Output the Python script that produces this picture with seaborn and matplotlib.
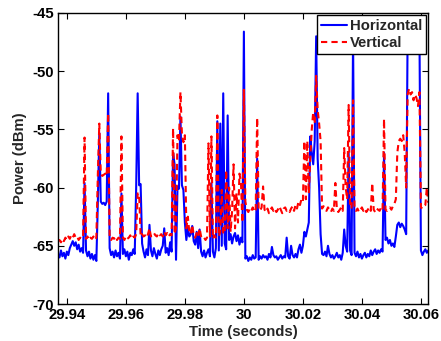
import numpy as np
import pandas as pd
import matplotlib
matplotlib.use("Agg")
import matplotlib.pyplot as plt
import seaborn as sns

# ---- data ----
t_start = 29.937          # first sample time (s)
t_step = 0.0005           # sample spacing (s)

horizontal = [
    -65.7, -66.0, -65.4, -65.9, -65.6, -66.1, -65.5, -65.8, -65.2, -64.9,
    -64.6, -65.0, -64.7, -65.3, -64.9, -65.5, -65.2, -65.6, -59.6, -65.4,
    -65.9, -65.5, -66.1, -65.7, -66.2, -65.8, -66.3, -61.3, -55.3, -61.2,
    -61.4, -61.3, -61.5, -61.2, -51.9, -65.2, -65.8, -65.5, -66.0, -65.4,
    -65.9, -65.6, -66.1, -60.5, -65.7, -65.3, -65.9, -65.5, -66.2, -65.6,
    -65.8, -65.3, -65.7, -59.9, -51.9, -59.8, -59.7, -64.8, -65.5, -66.0,
    -65.3, -65.8, -63.2, -65.4, -65.9, -65.2, -65.7, -66.1, -65.4, -65.8,
    -65.3, -65.0, -63.5, -65.6, -65.2, -65.8, -64.7, -65.5, -57.0, -58.0,
    -66.2, -59.9, -60.1, -53.9, -59.8, -60.2, -63.0, -64.5, -63.4, -64.2,
    -64.0, -63.3, -64.6, -64.9, -63.8, -65.2, -63.6, -65.5, -65.9, -65.4,
    -66.0, -65.6, -65.3, -65.9, -59.6, -65.5, -66.0, -65.2, -54.3, -65.4,
    -54.5, -65.0, -51.9, -64.8, -65.3, -53.8, -64.5, -64.0, -64.8, -64.2,
    -63.9, -64.6, -64.1, -64.9, -64.3, -64.7, -46.6, -66.1, -65.9, -66.3,
    -66.0, -66.2, -65.8, -66.1, -66.0, -57.5, -66.2, -65.9, -66.1, -65.8,
    -66.0, -65.9, -66.2, -65.7, -66.0, -65.1, -65.8, -66.0, -65.9, -66.2,
    -66.0, -65.8, -66.1, -65.9, -66.0, -64.3, -65.9, -66.1, -65.0, -65.8,
    -66.0, -65.7, -66.0, -65.3, -64.9, -65.6, -65.0, -63.8, -64.2, -63.6,
    -63.0, -55.6, -57.0, -58.0, -56.0, -47.0, -57.5, -60.0, -64.0, -65.7,
    -65.8, -65.5, -65.9, -65.0, -65.7, -66.0, -65.8, -66.1, -65.9, -65.6,
    -66.0, -65.8, -66.2, -65.6, -63.6, -65.0, -65.5, -57.0, -65.4, -65.8,
    -47.0, -65.6, -65.9, -65.5, -66.0, -65.7, -66.1, -65.8, -65.6, -66.0,
    -65.7, -65.9, -65.4, -65.8, -65.5, -65.3, -65.7, -65.4, -65.6, -65.3,
    -65.5, -57.0, -64.5, -64.3, -64.8, -64.5, -65.0, -64.8, -65.1, -64.2,
    -63.2, -63.0, -63.4, -63.1, -63.3, -63.6, -64.0, -46.5, -47.5, -47.2,
    -47.6, -47.3, -47.5, -47.4, -47.6, -46.5, -65.4, -65.8, -65.5, -65.3,
    -65.6, -65.4,
]

vertical = [
    -64.6, -64.5, -64.7, -64.4, -64.6, -64.3, -64.5, -64.2, -64.4, -64.1,
    -64.3, -64.0, -64.3, -64.2, -64.5, -64.3, -64.4, -64.2, -55.7, -64.4,
    -64.2, -64.5, -64.3, -64.4, -64.2, -64.5, -64.3, -58.9, -54.5, -58.8,
    -59.0, -58.9, -58.8, -59.0, -53.6, -64.2, -64.5, -64.3, -64.4, -64.2,
    -64.5, -64.3, -64.4, -55.6, -64.3, -64.5, -64.2, -64.4, -64.3, -64.1,
    -64.4, -64.2, -64.3, -64.0, -60.5, -60.5, -64.2, -64.0, -64.2, -64.1,
    -64.3, -64.0, -63.5, -64.2, -64.0, -63.9, -64.1, -64.2, -63.9, -64.1,
    -64.0, -64.2, -63.8, -64.1, -63.9, -64.2, -64.0, -64.1, -54.9, -64.0,
    -63.5, -55.5, -56.0, -51.8, -55.4, -56.1, -55.5, -63.5, -62.5, -63.8,
    -64.0, -63.2, -64.1, -64.3, -63.9, -64.2, -63.5, -64.2, -64.4, -64.3,
    -64.5, -64.3, -56.2, -64.2, -55.6, -64.4, -64.1, -64.3, -53.8, -64.2,
    -63.8, -60.2, -64.0, -63.8, -58.5, -63.5, -60.0, -63.8, -62.0, -58.0,
    -63.5, -60.5, -63.0, -58.8, -59.5, -63.0, -51.6, -61.2, -61.9, -62.1,
    -61.8, -62.0, -61.7, -62.1, -61.9, -54.0, -61.8, -62.0, -61.7, -59.9,
    -61.9, -62.1, -61.8, -62.2, -61.9, -61.7, -62.0, -61.8, -62.1, -61.9,
    -61.6, -61.9, -62.2, -61.8, -61.7, -62.0, -61.9, -62.1, -61.8, -61.6,
    -62.0, -61.5, -61.8, -61.2, -61.5, -61.0, -61.2, -56.0, -61.0, -56.0,
    -60.5, -57.5, -55.0, -53.5, -54.5, -50.4, -53.3, -54.5, -56.0, -61.8,
    -61.6, -61.9, -62.0, -61.7, -61.9, -62.1, -61.8, -62.0, -59.6, -61.8,
    -62.1, -61.9, -61.7, -62.0, -56.6, -60.0, -61.0, -52.9, -61.5, -61.8,
    -52.5, -61.8, -62.0, -61.8, -62.1, -61.9, -61.7, -62.0, -61.8, -62.1,
    -61.9, -61.7, -62.0, -59.6, -61.9, -62.1, -61.8, -61.9, -62.0, -61.7,
    -61.9, -54.1, -61.9, -62.0, -61.8, -61.7, -61.9, -61.6, -61.4, -61.0,
    -57.0, -56.0, -55.8, -56.0, -55.5, -57.0, -60.0, -52.0, -51.5, -52.0,
    -51.8, -52.5, -52.0, -52.3, -53.0, -51.8, -61.7, -61.8, -61.6, -61.5,
    -60.0, -61.3,
]

x_ticks = [29.94, 29.96, 29.98, 30.0, 30.02, 30.04, 30.06]
x_tick_labels = ["29.94", "29.96", "29.98", "30", "30.02", "30.04", "30.06"]
y_ticks = [-70, -65, -60, -55, -50, -45]
y_tick_labels = ["-70", "-65", "-60", "-55", "-50", "-45"]

assert len(horizontal) == len(vertical)
n = len(horizontal)
time = t_start + t_step * np.arange(n)

df = pd.DataFrame({"time": time, "Horizontal": horizontal, "Vertical": vertical})

# ---- style ----
sns.set_style("white")
plt.rcParams["font.family"] = ["Liberation Sans", "DejaVu Sans"]
plt.rcParams["font.weight"] = "bold"
plt.rcParams["axes.unicode_minus"] = False

fs = 10.7
fig = plt.figure(figsize=(4.41, 3.41), dpi=100)
ax = fig.add_axes([58 / 441, 1 - 304 / 341, (428 - 58) / 441, (304 - 13) / 341])

sns.lineplot(data=df, x="time", y="Horizontal", ax=ax, color=(0, 0, 1),
             linewidth=1.5, estimator=None, label="Horizontal")
sns.lineplot(data=df, x="time", y="Vertical", ax=ax, color=(1, 0, 0),
             linewidth=1.5, linestyle=(0, (3, 2)), estimator=None, label="Vertical")

ax.set_xlim(29.937, 30.0624)
ax.set_ylim(-70, -45)
ax.set_xticks(x_ticks)
ax.set_xticklabels(x_tick_labels, fontsize=fs, fontweight="bold")
ax.set_yticks(y_ticks)
ax.set_yticklabels(y_tick_labels, fontsize=fs, fontweight="bold")
ax.tick_params(direction="in", length=4, width=0.8, top=True, right=True,
               bottom=True, left=True, pad=3, colors="black")
for s in ax.spines.values():
    s.set_visible(True)
    s.set_color("black")
    s.set_linewidth(1.0)

ax.set_xlabel("Time (seconds)", fontsize=fs, fontweight="bold", labelpad=2)
ax.set_ylabel("Power (dBm)", fontsize=fs, fontweight="bold", labelpad=4)

leg = ax.legend(loc="upper right", fontsize=fs, frameon=True, fancybox=False,
                framealpha=1.0, edgecolor="black", borderaxespad=0.15,
                handlelength=1.75, handletextpad=0.2, labelspacing=0.2,
                borderpad=0.25)
leg.get_frame().set_linewidth(1.0)
for txt in leg.get_texts():
    txt.set_fontweight("bold")

fig.savefig("out.png", dpi=100)
